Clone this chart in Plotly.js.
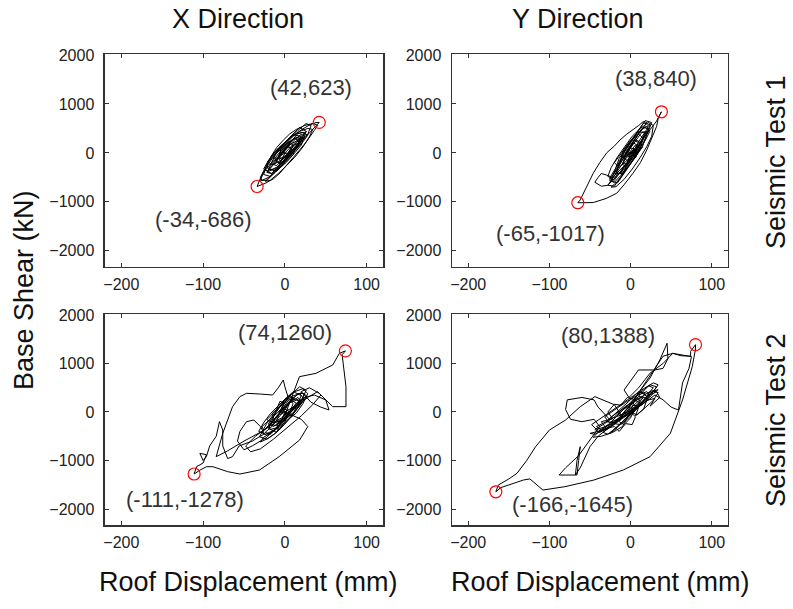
<!DOCTYPE html>
<html>
<head>
<meta charset="utf-8">
<script src="https://cdn.plot.ly/plotly-3.0.1.min.js"></script>
<style>html,body{margin:0;padding:0;background:#fff;}#chart{width:793px;height:609px;}</style>
</head>
<body>
<div id="chart"></div>
<script>
// ---------- data: [roof displacement (mm), base shear (kN)] ----------
var loopX1 = [
 [0,0],[4,60],[10,170],[5,235],[0,150],[-5,65],[-10,-170],[-5,-235],[0,-150],[5,-65],[10,170],
 [20,340],[10,370],[0,200],[-10,30],[-20,-340],[-10,-370],[0,-200],[10,-30],[20,340],
 [26,440],[18,520],[8,360],[-2,200],[-12,20],[-20,-160],[-26,-440],[-18,-480],[-8,-330],[2,-190],[12,0],[20,160],[26,440],
 [19,260],[12,300],[4,200],[-4,60],[-11,-190],[-4,-190],[4,-60],[12,80],[19,260],
 [28,380],[32,560],[26,600],[16,460],[6,300],[-4,120],[-14,-60],[-22,-230],[-20,-340],[-12,-330],[0,-170],[10,0],[20,190],
 [12,300],[2,160],[-8,-20],[-18,-220],[-26,-400],[-30,-560],[-22,-560],[-12,-400],[-2,-230],[8,-40],[16,200],
 [10,150],[6,180],[0,80],[-4,0],[-8,-100],[-6,-160],[0,-90],[4,20],[8,110],[3,120],[-2,20],[-7,-80],[-4,-120],[2,-80],[6,40],
 [14,210],[22,330],[24,420],[16,400],[8,240],[0,90],[-8,-80],[-16,-260],[-22,-380],[-16,-420],[-8,-300],[0,-140],[8,20],[16,180],
 [24,300],[32,450],[38,550],[42,623],[38,620],[30,570],[20,470],[10,340],[2,200],[-6,60],[-14,-80],[-20,-220],[-26,-380],[-30,-520],[-34,-686],
 [-24,-620],[-14,-530],[-6,-410],[2,-260],[10,-100],[18,60],[26,220],[32,350],[36,460],[40,560],[38,580],[34,600],[24,560],[14,480],[6,390],
 [-2,260],[-10,110],[-15,-20],[-20,-170],[-25,-330],[-30,-500],[-28,-560],[-20,-500],[-10,-360],[0,-180],[8,-20],[0,0],
 [-8,-300],[-16,-450],[-24,-580],[-18,-560],[-8,-420],[2,-260],[12,-90],[22,120],[30,330],[34,480],[28,500],[18,440],[8,330],[-2,170],
 [-12,0],[-20,-150],[-26,-330],[-20,-380],[-10,-290],[0,-160],[10,10],[20,180],[28,360],[22,420],[12,380],[2,250],[-8,100],[-16,-50],
 [-22,-220],[-14,-240],[-4,-140],[6,0],[16,140],[24,300],[18,330],[8,260],[-2,140],[-10,0],[-14,-100],[-6,-120],[4,-20],[12,100],
 [20,230],[14,240],[4,160],[-4,40],[0,0],
 [6,-60],[12,60],[18,200],[24,340],[20,380],[14,300],[8,200],[2,80],[-4,-40],[-10,-160],[-16,-280],[-22,-400],[-16,-420],[-10,-320],
 [-4,-200],[2,-80],[8,40],[14,160],[20,280],[14,320],[8,240],[2,120],[-4,0],[-10,-120],[-16,-220],[-10,-260],[-4,-160],[2,-40],[8,80],
 [4,140],[-2,40],[-6,-60],[0,0]
];
var loopY1 = [
 [0,0],[5,-30],[10,240],[5,270],[0,150],[-5,30],[-10,-240],[-5,-270],[0,-150],[5,-30],
 [9,20],[18,430],[9,420],[0,200],[-9,-20],[-18,-430],[-9,-420],[0,-200],[9,20],
 [14,110],[24,580],[16,610],[6,380],[-4,130],[-14,-110],[-24,-580],[-16,-610],[-6,-380],[4,-130],[14,110],
 [26,620],[18,660],[6,380],[-6,80],[-14,-180],[-18,-430],[-8,-380],[4,-130],[14,120],
 [8,0],[0,-220],[-10,-460],[-20,-680],[-28,-660],[-24,-560],[-16,-360],[-6,-120],[4,60],
 [8,160],[4,200],[-2,60],[-8,-100],[-4,-160],[2,-40],[6,80],[0,100],[-6,-20],[-2,-80],[4,40],
 [12,280],[20,480],[22,560],[14,500],[4,260],[-8,-40],[-18,-300],[-26,-520],[-20,-560],[-10,-340],[0,-100],[10,150],[18,360],
 [4,-60],[-10,-300],[-22,-500],[-30,-450],[-36,-420],[-40,-500],[-44,-600],[-36,-680],[-28,-660],[-22,-560],[-14,-420],[-4,-200],
 [8,80],[16,300],[24,480],[30,600],[32,650],[36,780],[38,840],[36,780],[34,700],[32,537],[26,300],[20,61],[12,-200],[3,-415],[-8,-650],
 [-17,-823],[-30,-930],[-46,-1014],[-60,-1017],[-65,-1017],
 [-62,-960],[-58,-823],[-52,-640],[-46,-415],[-38,-200],[-29.5,0],[-20,140],[-13,265],[-5,380],[3,469],[10,560],[15.6,640],
 [20,620],[14,480],[6,300],[-2,100],[-8,-100],[0,0],
 [-8,-400],[-16,-580],[-24,-700],[-18,-690],[-8,-540],[2,-330],[12,-90],[20,130],[26,340],[28,560],[22,620],[12,500],[2,340],[-8,110],
 [-16,-80],[-24,-300],[-28,-480],[-22,-520],[-12,-400],[-2,-200],[8,30],[18,250],[24,450],[18,520],[8,410],[-2,210],[-12,-20],[-20,-200],
 [-14,-290],[-4,-150],[6,60],[16,300],[10,380],[0,250],[-8,70],[-12,-80],[-4,-60],[4,80],[0,0],
 [6,-100],[12,100],[16,300],[20,420],[14,420],[8,300],[2,160],[-4,20],[-10,-150],[-16,-330],[-20,-420],[-14,-420],[-8,-300],[-2,-160],
 [4,0],[10,160],[16,340],[22,500],[16,520],[10,400],[4,240],[-2,80],[-8,-80],[-14,-240],[-20,-380],[-26,-560],[-20,-600],[-12,-460],
 [-4,-260],[4,-60],[10,60],[6,160],[0,40],[-6,-100],[-10,-220],[-4,-220],[2,-100],[8,60],[12,200],[6,240],[0,120],[-4,-40],[0,0]
];
var loopX2 = [
 [0,0],[5,-40],[10,170],[5,280],[0,200],[-5,40],[-10,-170],[-5,-280],[0,-200],[5,-40],
 [10,-50],[20,340],[10,420],[0,250],[-10,50],[-20,-340],[-10,-420],[0,-250],[10,-50],
 [18,140],[26,450],[18,520],[8,360],[-2,180],[-12,-10],[-22,-230],[-31,-510],[-22,-560],[-12,-440],[-2,-260],[8,-80],
 [14,60],[20,200],[16,300],[8,220],[0,60],[-8,-120],[-16,-300],[-24,-420],[-18,-460],[-8,-300],[2,-120],[12,80],[22,300],[24,380],
 [16,380],[6,200],[-4,20],[-14,-200],[-26,-380],[-28,-300],[-18,-160],[-8,0],[2,140],[10,300],[4,320],[-4,160],[-12,-40],[-20,-240],
 [-14,-300],[-4,-180],[6,0],[14,180],[20,260],[14,160],[4,-20],[-6,-200],[-2,-100],[4,60],[0,120],[-6,0],
 [-20,-300],[-36,-500],[-48,-700],[-42,-820],[-30,-760],[-14,-560],[4,-300],[20,-80],[34,150],[44,350],[40,420],[28,300],[14,120],[0,-60],
 [6,200],[12,450],[17.8,728],[38,797],[58.5,969],[66.6,1209],[74,1260],[70,1180],[72,900],[74.7,522],[74.7,110],[58.5,110],[42,385],[30,500],[20,420],
 [32,200],[44,100],[54,41],[50,247],[36,350],[24,300],[12,100],
 [-6,-250],[-22,-520],[-40,-700],[-50,-780],[-58,-600],[-55,-400],[-47,-200],[-38,-165],[-30,-300],[-25,-450],[-40,-600],[-56,-700],[-64,-921],
 [-70,-960],[-76,-700],[-76,-372],[-80,-200],[-84,-500],[-92,-700],[-96,-921],[-100,-1000],[-104,-853],[-96,-880],[-100,-1050],[-108,-1128],
 [-111,-1278],[-104,-1200],[-96,-1128],[-88,-1128],[-70,-1230],[-55,-1279],[-31,-1196],[-7,-921],[18,-578],[28,-300],[20,-150],[8,-60],
 [-10,-200],[-28,-400],[-50,-600],[-70,-800],[-84,-921],[-76,-440],[-64,110],[-55,316],[-47,385],[-30,370],[-15,350],[-8,500],[-2,660],
 [0,520],[4,300],[-4,100],[0,0],
 [-10,-420],[-20,-540],[-30,-620],[-26,-520],[-16,-420],[-6,-300],[4,-160],[14,-20],[22,170],[28,380],[22,480],[12,420],[2,300],[-8,140],
 [-18,-40],[-26,-220],[-32,-400],[-24,-460],[-14,-380],[-4,-230],[6,-80],[16,80],[24,260],[18,380],[8,320],[-2,180],[-12,20],[-22,-160],
 [-14,-220],[-4,-120],[6,20],[14,180],[8,240],[-2,120],[-8,0],[0,0],
 [4,40],[12,120],[10,40],[18,160],[16,260],[8,200],[10,300],[0,180],[-6,220],[-10,60],[-16,-40],[-12,-200],[-20,-260],[-18,-360],[-8,-320],
 [-10,-200],[0,-180],[2,-60],[0,0],
 [8,-80],[14,40],[20,180],[26,340],[20,400],[12,320],[4,180],[-4,40],[-12,-120],[-20,-280],[-28,-420],[-22,-480],[-14,-380],[-6,-240],
 [2,-100],[10,40],[18,200],[12,280],[4,160],[-4,20],[-12,-140],[-18,-260],[-10,-280],[-2,-140],[6,0],[0,60],[-6,-60],[0,0]
];
var loopY2 = [
 [0,0],[6,80],[12,220],[8,300],[0,160],[-8,-20],[-14,-200],[-8,-260],[0,-120],[6,80],
 [14,180],[22,380],[28,500],[22,540],[12,360],[0,160],[-12,-80],[-24,-300],[-34,-420],[-28,-460],[-16,-300],[-4,-100],[8,100],[20,320],
 [30,460],[32,520],[24,560],[12,400],[0,200],[-12,0],[-26,-240],[-40,-400],[-50,-440],[-44,-460],[-30,-340],[-16,-160],[-2,40],[12,260],
 [18,380],[10,420],[-2,220],[-16,0],[-30,-200],[-42,-300],[-36,-380],[-20,-260],[-6,-60],[6,120],[16,300],
 [10,320],[2,180],[-6,40],[-14,-120],[-20,-240],[-12,-260],[-2,-120],[6,40],[14,200],[26,420],[34,460],[28,380],[18,220],[6,40],
 [-6,-140],[-18,-320],[-26,-440],[-20,-380],[-10,-200],[0,-40],[10,120],[4,140],[-4,20],
 [10,400],[24,700],[36,1072],[45,1416],[46,1100],[40,900],[30,866],[9.7,866],[-8,453],[-2,300],[10,500],[24,800],[40,1000],[52,1209],
 [60,1180],[75,1141],[72,900],[64,600],[59,41],[50,100],[40,250],[30,350],[14,150],
 [-10,-50],[-26,-150],[-40,100],[-45,250],[-60,300],[-78,250],[-80,50],[-74,-150],[-60,-200],[-45,-150],[-38,-300],
 [-50,-575],[-64,-900],[-80,-1150],[-88,-1299],[-80,-1300],[-66,-1299],[-64,-1000],[-62,-715],[-66,-1000],[-68,-1299],[-62,-1150],
 [-50,-715],[-40,-500],[-25,-300],[-10,-100],
 [-20,150],[-44,316],[-62,110],[-80,-165],[-100,-372],[-117,-715],[-128,-1000],[-140,-1265],[-150,-1380],[-163,-1506],[-166,-1645],
 [-160,-1560],[-132,-1402],[-124,-1380],[-108,-1609],[-81,-1540],[-45,-1402],[-9,-1196],[24,-921],[49,-440],[64,247],[76,934],
 [80,1300],[80,1388],[74,1250],[74,1150],[62,1160],[52,1209],[40,1150],[30,900],[18,600],[6,300],[0,0],
 [-10,-300],[-22,-420],[-36,-500],[-46,-520],[-40,-420],[-28,-280],[-14,-120],[0,40],[14,200],[26,380],[34,560],[28,600],[16,480],[4,340],
 [-10,180],[-24,20],[-36,-120],[-48,-260],[-42,-360],[-30,-300],[-16,-180],[-2,-20],[12,160],[24,320],[20,420],[8,340],[-6,200],[-20,40],
 [-32,-100],[-26,-220],[-12,-120],[2,20],[14,160],[6,240],[-6,120],[-16,-20],[-8,-100],[4,0],[0,0],
 [10,100],[6,-80],[16,60],[20,240],[30,280],[24,120],[36,300],[32,420],[20,320],[12,420],[4,260],[-4,300],[-12,140],[-20,160],[-28,0],
 [-22,-140],[-36,-200],[-30,-340],[-20,-300],[-14,-400],[-6,-240],[2,-260],[6,-100],[0,0],
 [8,-60],[18,80],[28,240],[34,400],[26,440],[16,340],[4,200],[-8,60],[-20,-100],[-32,-240],[-44,-360],[-38,-420],[-26,-320],[-14,-180],
 [-2,-40],[10,100],[22,260],[14,320],[2,200],[-10,60],[-22,-80],[-30,-200],[-20,-220],[-8,-80],[4,60],[0,0]
];
// peak points (displacement mm, shear kN)
var peakDispX1 = [42,-34],    peakShearX1 = [623,-686];
var peakDispY1 = [38,-65],    peakShearY1 = [840,-1017];
var peakDispX2 = [74,-111],   peakShearX2 = [1260,-1278];
var peakDispY2 = [80,-166],   peakShearY2 = [1388,-1645];
var xTicks = [-200,-100,0,100];
var yTicks = [-2000,-1000,0,1000,2000];
var colTitles = ['X Direction','Y Direction'];
var rowTitles = ['Seismic Test 1','Seismic Test 2'];
var xTitle = 'Roof Displacement (mm)';
var yTitle = 'Base Shear (kN)';

// ---------- chart ----------
var FONT = 'Liberation Sans, Arial, sans-serif';
function col(a,i){ return a.map(function(p){return p[i];}); }
var panels = [
  {L:loopX1, pd:peakDispX1, ps:peakShearX1, xa:'x',  ya:'y',  lab:[[32,1330],[-100,-1370]]},
  {L:loopY1, pd:peakDispY1, ps:peakShearY1, xa:'x2', ya:'y2', lab:[[31,1530],[-99,-1650]]},
  {L:loopX2, pd:peakDispX2, ps:peakShearX2, xa:'x3', ya:'y3', lab:[[0,1630],[-122,-1795]]},
  {L:loopY2, pd:peakDispY2, ps:peakShearY2, xa:'x4', ya:'y4', lab:[[-28,1570],[-72,-1915]]}
];
var traces = [], annotations = [];
panels.forEach(function(p){
  traces.push({x:col(p.L,0), y:col(p.L,1), xaxis:p.xa, yaxis:p.ya, type:'scatter', mode:'lines',
    line:{color:'#000', width:1}, hoverinfo:'skip', showlegend:false});
  traces.push({x:p.pd, y:p.ps, xaxis:p.xa, yaxis:p.ya, type:'scatter', mode:'markers',
    marker:{symbol:'circle-open', size:12, color:'#ff0000', line:{width:1.2, color:'#ff0000'}},
    showlegend:false});
  for (var i=0;i<2;i++){
    annotations.push({xref:p.xa, yref:p.ya, x:p.lab[i][0], y:p.lab[i][1],
      xanchor:'center', yanchor:'middle',
      text:'('+p.pd[i]+','+p.ps[i]+')', showarrow:false,
      font:{family:FONT, size:22, color:'#333'}});
  }
});
function ax(domain, anchor, isX){
  return {domain:domain, anchor:anchor,
    range: isX ? [-220,120] : [-2330,2020],
    tickmode:'array', tickvals: isX ? xTicks : yTicks,
    ticks:'inside', ticklen:4, tickwidth:1, tickcolor:'#333',
    showline:true, mirror:'ticks', linecolor:'#333', linewidth:1.5,
    showgrid:false, zeroline:false, fixedrange:true,
    ticklabelstandoff: isX ? 2 : 6,
    tickfont:{family:FONT, size:16, color:'#222'}};
}
function title(x, y, text, angle){
  return {xref:'paper', yref:'paper', x:x/793, y:1-y/609, xanchor:'center', yanchor:'middle',
    text:text, textangle:angle||0, showarrow:false, font:{family:FONT, size:27, color:'#111'}};
}
var dxL=[0.1324,0.4830], dxR=[0.570,0.918], dyT=[0.5616,0.9113], dyB=[0.1379,0.4844];
var layout = {
  width:793, height:609, margin:{l:0,r:0,t:0,b:0},
  paper_bgcolor:'#fff', plot_bgcolor:'#fff', showlegend:false,
  xaxis: ax(dxL,'y',true),  yaxis: ax(dyT,'x',false),
  xaxis2:ax(dxR,'y2',true), yaxis2:ax(dyT,'x2',false),
  xaxis3:ax(dxL,'y3',true), yaxis3:ax(dyB,'x3',false),
  xaxis4:ax(dxR,'y4',true), yaxis4:ax(dyB,'x4',false),
  annotations: annotations.concat([
    title(238, 19, colTitles[0]),
    title(578, 19, colTitles[1]),
    title(248, 582, xTitle),
    title(600, 582, xTitle),
    title(24, 290, yTitle, -90),
    title(776, 162, rowTitles[0], -90),
    title(776, 420, rowTitles[1], -90)
  ])
};
Plotly.newPlot('chart', traces, layout, {staticPlot:true, displayModeBar:false});
</script>
</body>
</html>
